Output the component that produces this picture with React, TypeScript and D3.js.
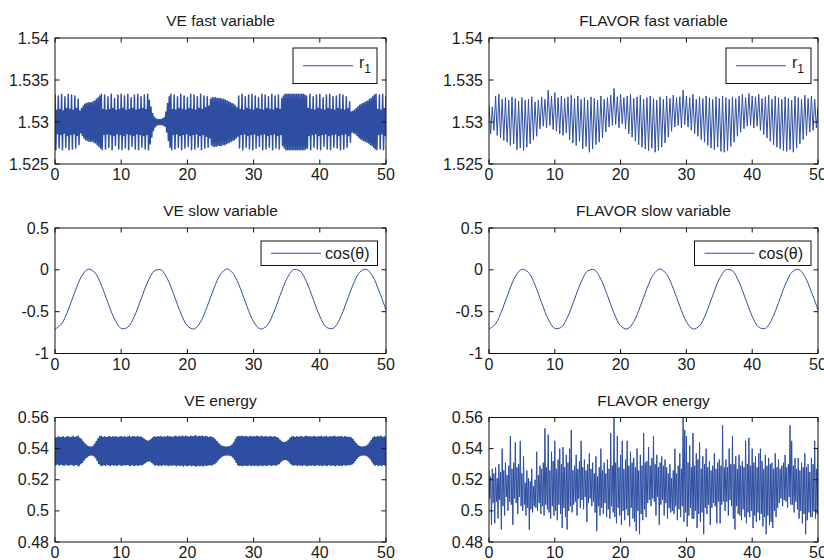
import React from 'react';
import * as d3 from 'd3';

// ---------- axis data ----------
const xTicks = [0, 10, 20, 30, 40, 50];
const xTickLabels = ['0', '10', '20', '30', '40', '50'];
const fastTicks = [1.525, 1.53, 1.535, 1.54];
const fastTickLabels = ['1.525', '1.53', '1.535', '1.54'];
const slowTicks = [-1, -0.5, 0, 0.5];
const slowTickLabels = ['-1', '-0.5', '0', '0.5'];
const energyTicks = [0.48, 0.5, 0.52, 0.54, 0.56];
const energyTickLabels = ['0.48', '0.5', '0.52', '0.54', '0.56'];

// ---------- series data ----------
// slow variable cos(theta), sampled every 1 time unit (t = 0..50)
const slowStep = 1;
const slowValues = [
  -0.71, -0.646, -0.477, -0.264, -0.08, 0.007, -0.031, -0.183, -0.393, -0.589,
  -0.7, -0.686, -0.554, -0.35, -0.146, -0.013, 0.0, -0.111, -0.307, -0.517,
  -0.669, -0.707, -0.62, -0.436, -0.223, -0.054, 0.01, -0.054, -0.223, -0.436,
  -0.62, -0.707, -0.669, -0.517, -0.307, -0.111, 0.0, -0.013, -0.146, -0.35,
  -0.554, -0.686, -0.7, -0.589, -0.393, -0.183, -0.031, 0.007, -0.08, -0.264,
  -0.477,
];

// VE fast variable: oscillation half-amplitude around its centre, every 0.25 time units
const veFastStep = 0.25;
const veFastCenter = 1.53;
const veFastAmp = [
  0.0033, 0.0014, 0.0031, 0.0015, 0.0033, 0.0013, 0.0030, 0.0016,
  0.0033, 0.0015, 0.0032, 0.0014, 0.0031, 0.0016, 0.0027, 0.0013,
  0.0016, 0.0019, 0.0021, 0.0022, 0.0023, 0.0023, 0.0023, 0.0024,
  0.0025, 0.0027, 0.0029, 0.0031, 0.0033, 0.0015, 0.0032, 0.0014,
  0.0030, 0.0015, 0.0033, 0.0016, 0.0028, 0.0014, 0.0032, 0.0015,
  0.0033, 0.0016, 0.0031, 0.0014, 0.0033, 0.0015, 0.0029, 0.0016,
  0.0032, 0.0014, 0.0033, 0.0015, 0.0030, 0.0016, 0.0032, 0.0015,
  0.0033, 0.0026, 0.0018, 0.0010, 0.0006, 0.0004, 0.0003, 0.0003,
  0.0003, 0.0004, 0.0005, 0.0012, 0.0022, 0.0030, 0.0033, 0.0015,
  0.0032, 0.0014, 0.0030, 0.0016, 0.0033, 0.0015, 0.0031, 0.0014,
  0.0029, 0.0016, 0.0033, 0.0015, 0.0032, 0.0014, 0.0030, 0.0016,
  0.0033, 0.0015, 0.0031, 0.0017, 0.0030, 0.0019, 0.0027, 0.0029,
  0.0029, 0.0029, 0.0028, 0.0028, 0.0028, 0.0027, 0.0027, 0.0026,
  0.0025, 0.0024, 0.0023, 0.0022, 0.0021, 0.0019, 0.0017, 0.0031,
  0.0015, 0.0033, 0.0014, 0.0030, 0.0016, 0.0032, 0.0015, 0.0033,
  0.0014, 0.0031, 0.0016, 0.0029, 0.0015, 0.0033, 0.0014, 0.0032,
  0.0016, 0.0030, 0.0015, 0.0033, 0.0014, 0.0031, 0.0016, 0.0032,
  0.0015, 0.0028, 0.0031, 0.0033, 0.0033, 0.0033, 0.0033, 0.0033,
  0.0033, 0.0033, 0.0033, 0.0033, 0.0033, 0.0033, 0.0033, 0.0032,
  0.0031, 0.0016, 0.0033, 0.0015, 0.0030, 0.0014, 0.0032, 0.0016,
  0.0033, 0.0015, 0.0029, 0.0014, 0.0032, 0.0016, 0.0033, 0.0015,
  0.0030, 0.0014, 0.0031, 0.0016, 0.0033, 0.0015, 0.0032, 0.0014,
  0.0030, 0.0016, 0.0024, 0.0012, 0.0013, 0.0014, 0.0016, 0.0018,
  0.0020, 0.0021, 0.0022, 0.0023, 0.0024, 0.0025, 0.0027, 0.0028,
  0.0030, 0.0032, 0.0033, 0.0015, 0.0032, 0.0014, 0.0033, 0.0016,
  0.0031,
];

// FLAVOR fast variable: successive peaks / troughs every 0.25 time units
const flavorFastStep = 0.25;
const flavorFast = [
  1.5320, 1.5286, 1.5318, 1.5290, 1.5331, 1.5284, 1.5333, 1.5281,
  1.5327, 1.5278, 1.5329, 1.5276, 1.5326, 1.5272, 1.5330, 1.5274,
  1.5328, 1.5267, 1.5325, 1.5269, 1.5329, 1.5266, 1.5326, 1.5270,
  1.5327, 1.5274, 1.5330, 1.5279, 1.5324, 1.5283, 1.5326, 1.5292,
  1.5330, 1.5295, 1.5327, 1.5293, 1.5338, 1.5296, 1.5331, 1.5291,
  1.5335, 1.5289, 1.5329, 1.5286, 1.5331, 1.5284, 1.5328, 1.5287,
  1.5330, 1.5279, 1.5332, 1.5275, 1.5328, 1.5272, 1.5331, 1.5277,
  1.5327, 1.5268, 1.5329, 1.5271, 1.5326, 1.5264, 1.5330, 1.5268,
  1.5328, 1.5273, 1.5326, 1.5276, 1.5331, 1.5281, 1.5327, 1.5288,
  1.5329, 1.5294, 1.5332, 1.5296, 1.5340, 1.5297, 1.5330, 1.5293,
  1.5333, 1.5298, 1.5329, 1.5292, 1.5331, 1.5286, 1.5333, 1.5282,
  1.5328, 1.5277, 1.5330, 1.5273, 1.5332, 1.5270, 1.5327, 1.5268,
  1.5329, 1.5266, 1.5331, 1.5269, 1.5328, 1.5264, 1.5326, 1.5266,
  1.5330, 1.5270, 1.5327, 1.5275, 1.5331, 1.5282, 1.5328, 1.5289,
  1.5332, 1.5294, 1.5329, 1.5296, 1.5330, 1.5293, 1.5338, 1.5297,
  1.5331, 1.5294, 1.5329, 1.5290, 1.5333, 1.5286, 1.5327, 1.5283,
  1.5330, 1.5279, 1.5328, 1.5276, 1.5331, 1.5272, 1.5329, 1.5269,
  1.5327, 1.5267, 1.5330, 1.5270, 1.5328, 1.5265, 1.5331, 1.5264,
  1.5329, 1.5266, 1.5327, 1.5271, 1.5330, 1.5276, 1.5328, 1.5283,
  1.5331, 1.5288, 1.5333, 1.5292, 1.5329, 1.5295, 1.5334, 1.5296,
  1.5331, 1.5293, 1.5330, 1.5295, 1.5333, 1.5290, 1.5328, 1.5285,
  1.5330, 1.5281, 1.5332, 1.5277, 1.5327, 1.5273, 1.5331, 1.5270,
  1.5329, 1.5268, 1.5327, 1.5266, 1.5330, 1.5265, 1.5328, 1.5267,
  1.5326, 1.5264, 1.5331, 1.5269, 1.5329, 1.5274, 1.5327, 1.5279,
  1.5332, 1.5284, 1.5328, 1.5288, 1.5331, 1.5290, 1.5327, 1.5293,
  1.5318,
];

// VE energy: oscillation half-amplitude around its centre, every 0.25 time units
const veEnergyStep = 0.25;
const veEnergyCenter = 0.5385;
const veEnergyAmp = [
  0.0088, 0.0082, 0.0090, 0.0084, 0.0086, 0.0091, 0.0083, 0.0088,
  0.0090, 0.0084, 0.0087, 0.0092, 0.0085, 0.0089, 0.0094, 0.0080,
  0.0072, 0.0058, 0.0045, 0.0036, 0.0028, 0.0025, 0.0025, 0.0030,
  0.0042, 0.0060, 0.0078, 0.0090, 0.0093, 0.0086, 0.0091, 0.0084,
  0.0089, 0.0092, 0.0085, 0.0090, 0.0087, 0.0091, 0.0084, 0.0089,
  0.0092, 0.0086, 0.0090, 0.0085, 0.0088, 0.0093, 0.0086, 0.0091,
  0.0090, 0.0087, 0.0092, 0.0085, 0.0088, 0.0082, 0.0074, 0.0066,
  0.0062, 0.0064, 0.0072, 0.0082, 0.0090, 0.0086, 0.0091, 0.0088,
  0.0092, 0.0085, 0.0090, 0.0087, 0.0093, 0.0088, 0.0091, 0.0086,
  0.0090, 0.0094, 0.0087, 0.0092, 0.0089, 0.0095, 0.0088, 0.0093,
  0.0091, 0.0087, 0.0094, 0.0090, 0.0092, 0.0096, 0.0089, 0.0094,
  0.0090, 0.0095, 0.0088, 0.0092, 0.0089, 0.0086, 0.0090, 0.0084,
  0.0080, 0.0070, 0.0058, 0.0046, 0.0036, 0.0030, 0.0026, 0.0025,
  0.0025, 0.0026, 0.0030, 0.0038, 0.0052, 0.0072, 0.0088, 0.0092,
  0.0090, 0.0094, 0.0088, 0.0092, 0.0091, 0.0087, 0.0093, 0.0089,
  0.0092, 0.0088, 0.0094, 0.0090, 0.0089, 0.0093, 0.0087, 0.0091,
  0.0090, 0.0086, 0.0092, 0.0088, 0.0087, 0.0090, 0.0084, 0.0080,
  0.0068, 0.0058, 0.0054, 0.0054, 0.0058, 0.0068, 0.0080, 0.0088,
  0.0090, 0.0086, 0.0091, 0.0087, 0.0089, 0.0092, 0.0086, 0.0090,
  0.0093, 0.0088, 0.0091, 0.0087, 0.0090, 0.0092, 0.0086, 0.0091,
  0.0088, 0.0093, 0.0087, 0.0090, 0.0092, 0.0086, 0.0091, 0.0088,
  0.0090, 0.0094, 0.0087, 0.0091, 0.0089, 0.0092, 0.0086, 0.0090,
  0.0088, 0.0085, 0.0087, 0.0082, 0.0074, 0.0060, 0.0046, 0.0035,
  0.0028, 0.0025, 0.0025, 0.0026, 0.0030, 0.0038, 0.0050, 0.0066,
  0.0082, 0.0090, 0.0086, 0.0092, 0.0088, 0.0093, 0.0085, 0.0090,
  0.0087,
];

// FLAVOR energy: successive highs / lows every 0.125 time units
const flavorEnergyStep = 0.125;
const flavorEnergy = [
  0.526, 0.508, 0.522, 0.491, 0.527, 0.505, 0.524, 0.492,
  0.528, 0.506, 0.521, 0.495, 0.530, 0.507, 0.525, 0.488,
  0.540, 0.503, 0.526, 0.497, 0.531, 0.509, 0.523, 0.500,
  0.529, 0.506, 0.548, 0.504, 0.527, 0.491, 0.531, 0.508,
  0.544, 0.505, 0.528, 0.498, 0.530, 0.509, 0.545, 0.503,
  0.524, 0.500, 0.535, 0.504, 0.518, 0.497, 0.526, 0.502,
  0.521, 0.488, 0.519, 0.501, 0.527, 0.499, 0.516, 0.503,
  0.520, 0.502, 0.538, 0.500, 0.523, 0.505, 0.529, 0.498,
  0.527, 0.503, 0.531, 0.497, 0.553, 0.504, 0.528, 0.501,
  0.549, 0.499, 0.526, 0.495, 0.538, 0.503, 0.532, 0.497,
  0.545, 0.500, 0.527, 0.494, 0.533, 0.504, 0.540, 0.498,
  0.530, 0.489, 0.541, 0.502, 0.528, 0.496, 0.536, 0.488,
  0.531, 0.500, 0.540, 0.503, 0.552, 0.499, 0.526, 0.504,
  0.529, 0.506, 0.536, 0.497, 0.527, 0.508, 0.532, 0.502,
  0.545, 0.507, 0.528, 0.501, 0.533, 0.509, 0.526, 0.493,
  0.530, 0.505, 0.537, 0.508, 0.527, 0.503, 0.531, 0.506,
  0.524, 0.499, 0.535, 0.487, 0.522, 0.503, 0.528, 0.497,
  0.540, 0.502, 0.526, 0.498, 0.531, 0.505, 0.524, 0.496,
  0.533, 0.501, 0.527, 0.495, 0.550, 0.503, 0.529, 0.499,
  0.560, 0.496, 0.531, 0.492, 0.548, 0.502, 0.528, 0.497,
  0.536, 0.491, 0.545, 0.500, 0.527, 0.494, 0.533, 0.501,
  0.545, 0.497, 0.529, 0.490, 0.538, 0.502, 0.531, 0.495,
  0.534, 0.493, 0.528, 0.487, 0.540, 0.500, 0.526, 0.485,
  0.536, 0.498, 0.529, 0.494, 0.550, 0.501, 0.531, 0.496,
  0.532, 0.505, 0.541, 0.507, 0.529, 0.503, 0.534, 0.508,
  0.548, 0.506, 0.530, 0.497, 0.536, 0.509, 0.528, 0.491,
  0.531, 0.504, 0.535, 0.507, 0.529, 0.497, 0.533, 0.505,
  0.528, 0.495, 0.524, 0.502, 0.530, 0.499, 0.521, 0.500,
  0.526, 0.498, 0.540, 0.503, 0.524, 0.494, 0.529, 0.501,
  0.537, 0.496, 0.527, 0.503, 0.561, 0.493, 0.552, 0.499,
  0.548, 0.490, 0.531, 0.497, 0.542, 0.502, 0.528, 0.495,
  0.550, 0.495, 0.529, 0.500, 0.537, 0.489, 0.533, 0.498,
  0.544, 0.493, 0.527, 0.499, 0.535, 0.485, 0.530, 0.502,
  0.540, 0.498, 0.528, 0.504, 0.532, 0.491, 0.526, 0.502,
  0.529, 0.505, 0.537, 0.503, 0.527, 0.492, 0.531, 0.506,
  0.533, 0.492, 0.529, 0.504, 0.555, 0.506, 0.528, 0.500,
  0.533, 0.506, 0.528, 0.497, 0.540, 0.507, 0.530, 0.503,
  0.548, 0.495, 0.530, 0.488, 0.535, 0.503, 0.527, 0.498,
  0.536, 0.497, 0.529, 0.494, 0.532, 0.501, 0.528, 0.496,
  0.545, 0.492, 0.530, 0.499, 0.547, 0.496, 0.529, 0.500,
  0.540, 0.489, 0.531, 0.497, 0.535, 0.493, 0.528, 0.499,
  0.537, 0.494, 0.540, 0.498, 0.532, 0.490, 0.527, 0.496,
  0.536, 0.485, 0.529, 0.497, 0.534, 0.491, 0.530, 0.493,
  0.531, 0.489, 0.527, 0.500, 0.537, 0.496, 0.528, 0.502,
  0.533, 0.505, 0.527, 0.508, 0.529, 0.503, 0.531, 0.507,
  0.536, 0.506, 0.528, 0.502, 0.530, 0.509, 0.555, 0.504,
  0.545, 0.504, 0.529, 0.499, 0.534, 0.506, 0.527, 0.501,
  0.534, 0.495, 0.526, 0.500, 0.531, 0.492, 0.528, 0.498,
  0.537, 0.485, 0.528, 0.494, 0.530, 0.499, 0.525, 0.496,
  0.534, 0.496, 0.530, 0.500, 0.545, 0.495, 0.527, 0.498,
  0.541,
];

// ---------- point builders ----------
type Pt = [number, number];
const sampled = (vals: number[], step: number): Pt[] => vals.map((v, i) => [i * step, v]);
// each amplitude sample becomes an up-stroke then a down-stroke half a sample later
const band = (amps: number[], step: number, center: number): Pt[] => {
  const pts: Pt[] = [];
  amps.forEach((a, i) => {
    const t = i * step;
    pts.push([t, center + a]);
    if (t + step / 2 <= 50) pts.push([t + step / 2, center - a]);
  });
  return pts;
};

// ---------- styling ----------
const FONT = '"Liberation Sans", Arial, Helvetica, sans-serif';
const LINE = '#2d4ea1';
const AXIS = '#111';
const TEXT = '#1a1a1a';

type LegendSpec = { kind: 'r1' | 'cos'; width: number; height: number; gapRight: number; gapTop: number };

type PanelProps = {
  id: string;
  x: number; y: number; w: number; h: number;
  title: string;
  domain: [number, number];
  ticks: number[];
  labels: string[];
  points: Pt[];
  smooth?: boolean;
  lineWidth?: number;
  legend?: LegendSpec;
};

function Panel({ id, x, y, w, h, title, domain, ticks, labels, points, smooth, lineWidth, legend }: PanelProps) {
  const xs = d3.scaleLinear().domain([0, 50]).range([x, x + w]);
  const ys = d3.scaleLinear().domain(domain).range([y + h, y]);
  const line = d3.line<Pt>()
    .x((d) => xs(d[0]))
    .y((d) => ys(d[1]))
    .curve(smooth ? d3.curveCatmullRom : d3.curveLinear);
  const tl = 4.5;
  let legendEl = null;
  if (legend) {
    const lx = x + w - legend.gapRight - legend.width;
    const ly = y + legend.gapTop;
    const my = ly + legend.height / 2;
    legendEl = (
      <g>
        <rect x={lx} y={ly} width={legend.width} height={legend.height} fill="#fff" stroke={AXIS} strokeWidth={1} />
        <line x1={lx + 10} x2={lx + 60} y1={my} y2={my} stroke={LINE} strokeWidth={1} />
        {legend.kind === 'r1' ? (
          <text x={lx + 66} y={my + 2} fontFamily={FONT} fontSize={16} fill={TEXT}>
            r<tspan fontSize={12} dy={5}>1</tspan>
          </text>
        ) : (
          <text x={lx + 64} y={my + 6} fontFamily={FONT} fontSize={16} fill={TEXT}>cos(θ)</text>
        )}
      </g>
    );
  }
  return (
    <g>
      <defs>
        <clipPath id={id}>
          <rect x={x} y={y} width={w} height={h} />
        </clipPath>
      </defs>
      <text x={x + w / 2} y={y - 12} textAnchor="middle" fontFamily={FONT} fontSize={15.5} fill={TEXT}>{title}</text>
      <path d={line(points) ?? ''} fill="none" stroke={LINE} strokeWidth={lineWidth ?? 1} strokeLinejoin="round" clipPath={`url(#${id})`} />
      <rect x={x} y={y} width={w} height={h} fill="none" stroke={AXIS} strokeWidth={1} />
      {xTicks.map((t, i) => (
        <g key={'x' + i}>
          <line x1={xs(t)} x2={xs(t)} y1={y + h} y2={y + h - tl} stroke={AXIS} />
          <line x1={xs(t)} x2={xs(t)} y1={y} y2={y + tl} stroke={AXIS} />
          <text x={xs(t)} y={y + h + 16} textAnchor="middle" fontFamily={FONT} fontSize={16} fill={TEXT}>{xTickLabels[i]}</text>
        </g>
      ))}
      {ticks.map((t, i) => (
        <g key={'y' + i}>
          <line x1={x} x2={x + tl} y1={ys(t)} y2={ys(t)} stroke={AXIS} />
          <line x1={x + w} x2={x + w - tl} y1={ys(t)} y2={ys(t)} stroke={AXIS} />
          <text x={x - 6} y={ys(t) + 5.5} textAnchor="end" fontFamily={FONT} fontSize={16} fill={TEXT}>{labels[i]}</text>
        </g>
      ))}
      {legendEl}
    </g>
  );
}

export default function App() {
  const cols = [{ x: 55, w: 331 }, { x: 489, w: 329 }];
  const rows = [{ y: 38, h: 126 }, { y: 228, h: 125.5 }, { y: 417.5, h: 124.5 }];
  const slowPts = sampled(slowValues, slowStep);
  const legR1L: LegendSpec = { kind: 'r1', width: 84, height: 35.5, gapRight: 9, gapTop: 10 };
  const legR1R: LegendSpec = { kind: 'r1', width: 85, height: 35.5, gapRight: 7, gapTop: 10 };
  const legCosL: LegendSpec = { kind: 'cos', width: 116.5, height: 24.5, gapRight: 8.5, gapTop: 13 };
  const legCosR: LegendSpec = { kind: 'cos', width: 116.5, height: 24.5, gapRight: 7, gapTop: 13 };
  return (
    <svg width={824} height={560} style={{ position: 'absolute', left: 0, top: 0, background: '#fff' }}>
      <rect x={0} y={0} width={824} height={560} fill="#fff" />
      <Panel id="c1" {...cols[0]} {...rows[0]} title="VE fast variable" domain={[1.525, 1.54]}
        ticks={fastTicks} labels={fastTickLabels} points={band(veFastAmp, veFastStep, veFastCenter)}
        lineWidth={1.5} legend={legR1L} />
      <Panel id="c2" {...cols[1]} {...rows[0]} title="FLAVOR fast variable" domain={[1.525, 1.54]}
        ticks={fastTicks} labels={fastTickLabels} points={sampled(flavorFast, flavorFastStep)} legend={legR1R} />
      <Panel id="c3" {...cols[0]} {...rows[1]} title="VE slow variable" domain={[-1, 0.5]}
        ticks={slowTicks} labels={slowTickLabels} points={slowPts} smooth legend={legCosL} />
      <Panel id="c4" {...cols[1]} {...rows[1]} title="FLAVOR slow variable" domain={[-1, 0.5]}
        ticks={slowTicks} labels={slowTickLabels} points={slowPts} smooth legend={legCosR} />
      <Panel id="c5" {...cols[0]} {...rows[2]} title="VE energy" domain={[0.48, 0.56]}
        ticks={energyTicks} labels={energyTickLabels} points={band(veEnergyAmp, veEnergyStep, veEnergyCenter)}
        lineWidth={1.8} />
      <Panel id="c6" {...cols[1]} {...rows[2]} title="FLAVOR energy" domain={[0.48, 0.56]}
        ticks={energyTicks} labels={energyTickLabels} points={sampled(flavorEnergy, flavorEnergyStep)} />
    </svg>
  );
}
